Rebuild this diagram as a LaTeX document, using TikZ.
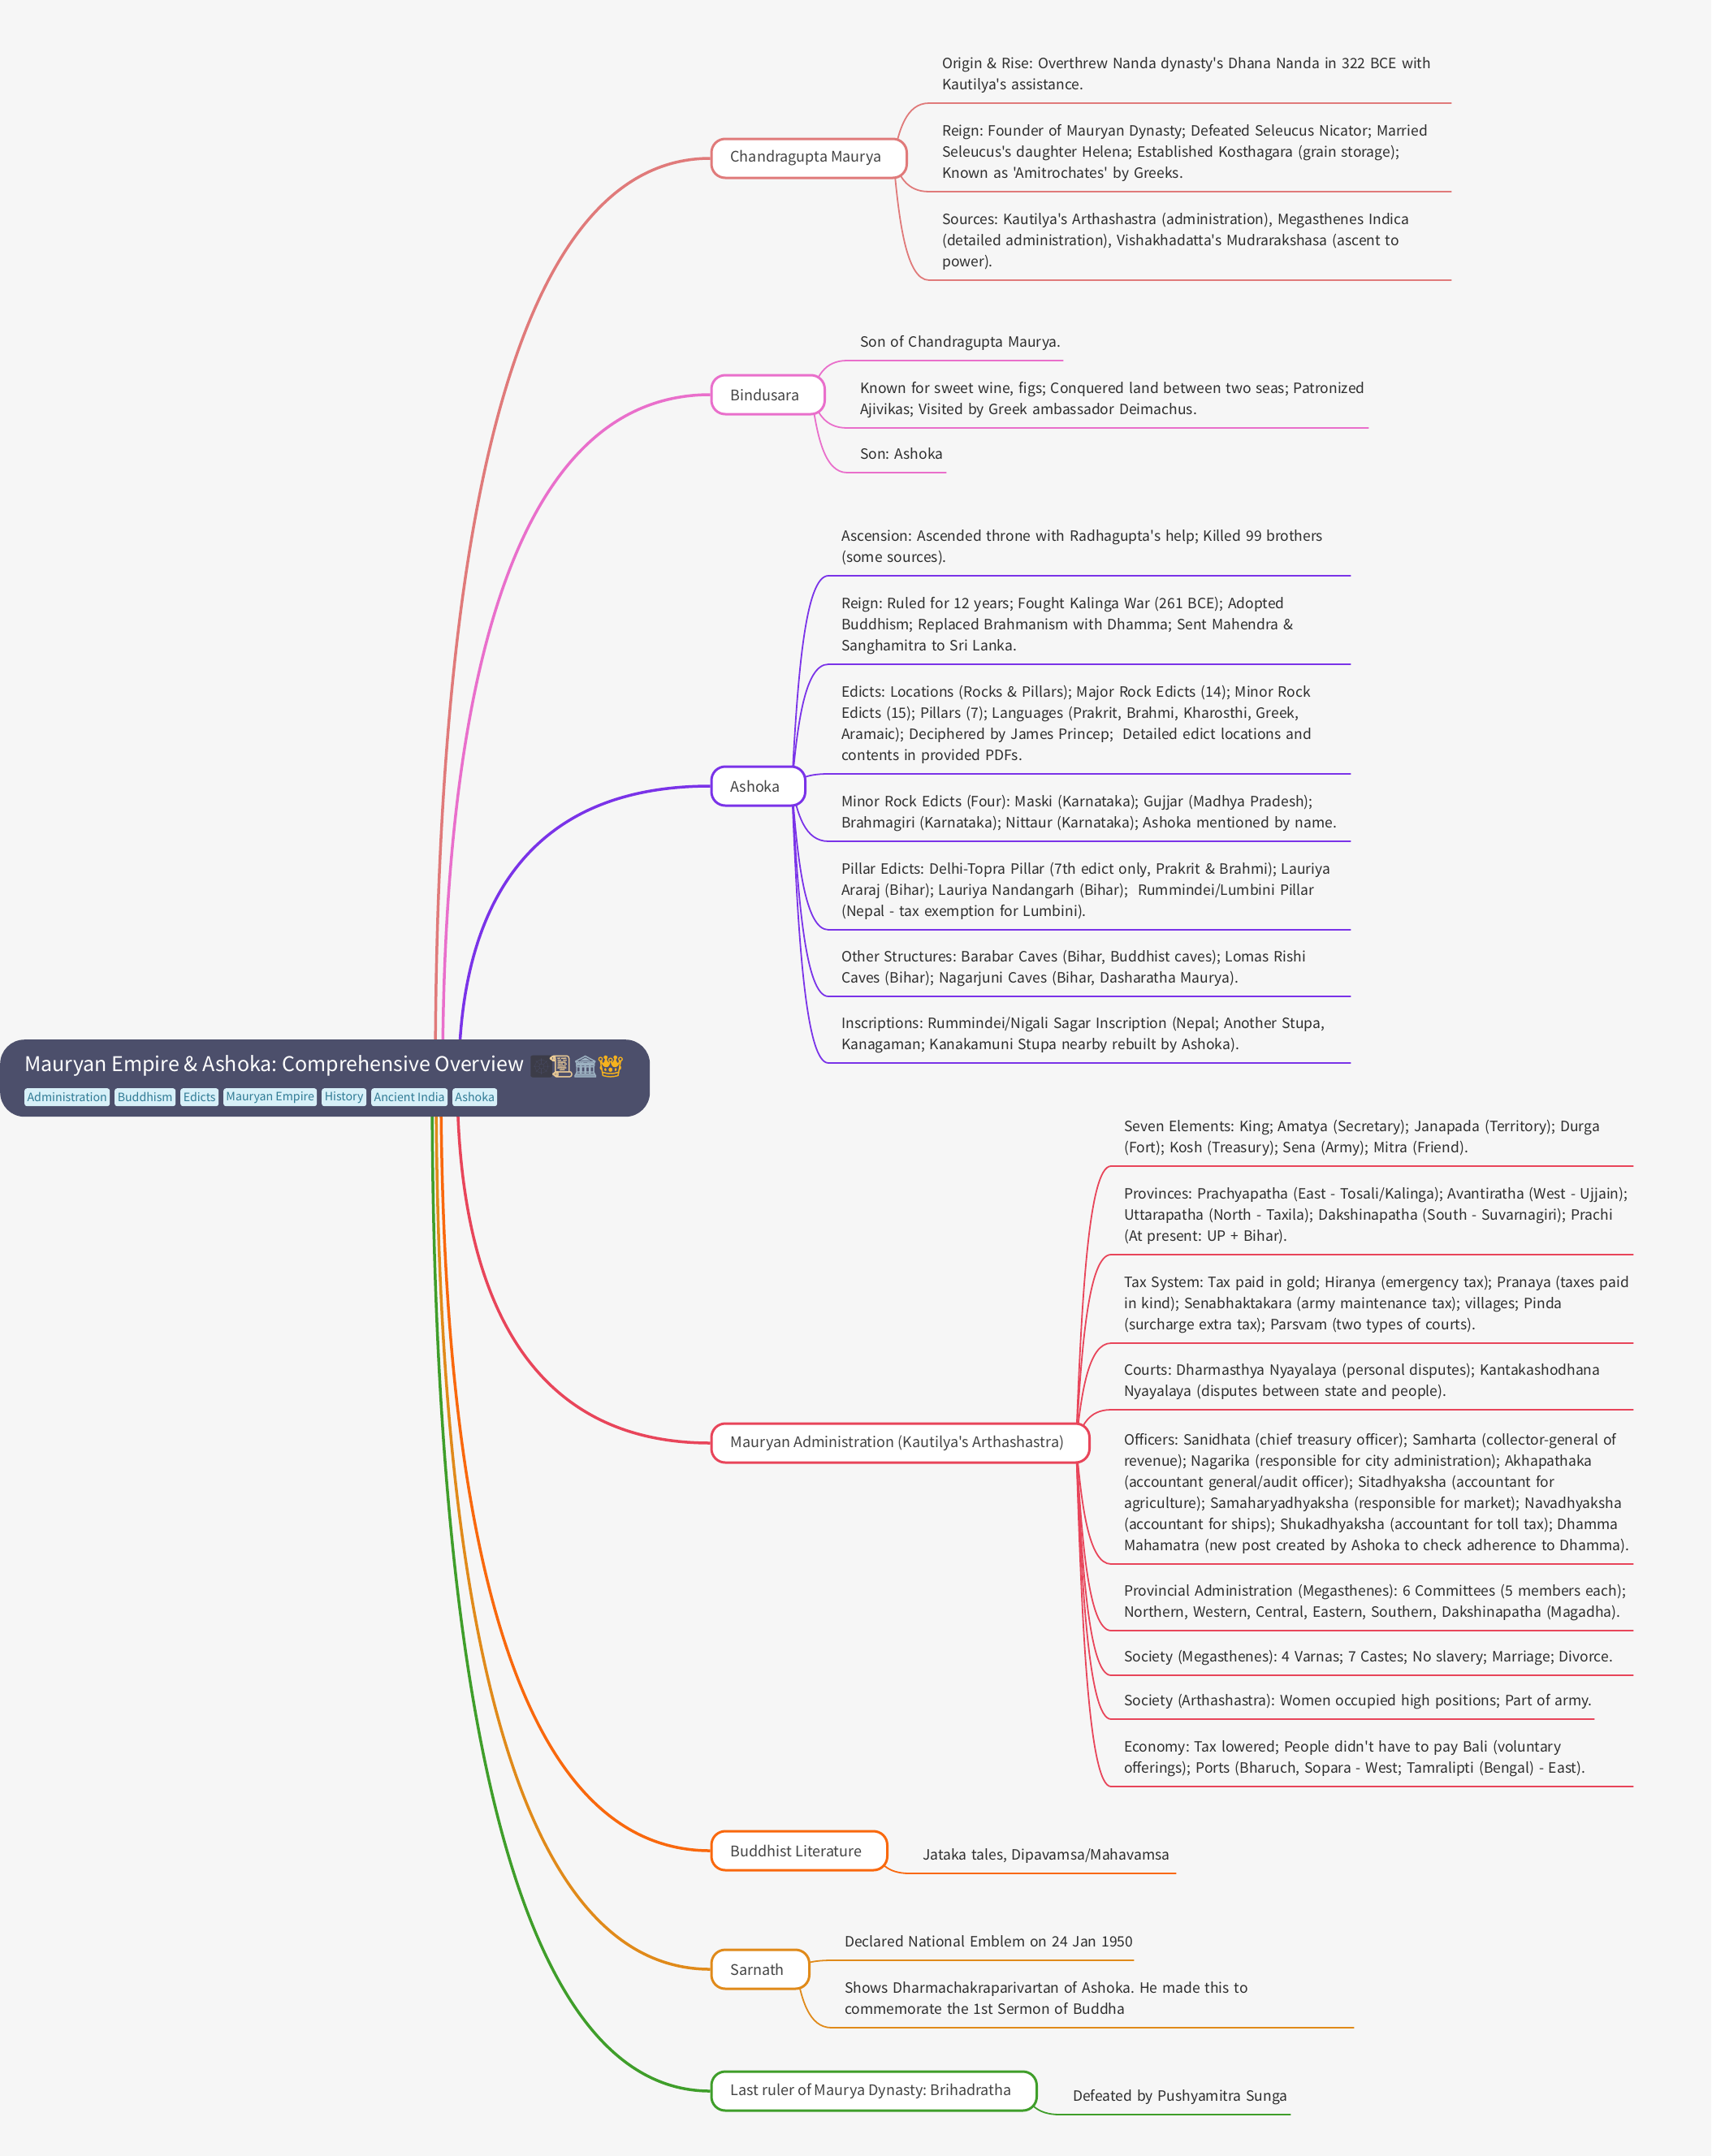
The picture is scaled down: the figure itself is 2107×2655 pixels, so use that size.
\documentclass[tikz,border=0pt]{standalone}
\usepackage{fontspec}
\usetikzlibrary{calc,backgrounds}
\newfontfamily\srcfont{Noto Sans CJK SC}
\newfontfamily\emojifont[FakeBold=1.5]{Noto Emoji}
\frenchspacing
\definecolor{pagebg}{HTML}{F6F6F6}
\definecolor{rootfill}{HTML}{4C4F6B}
\definecolor{tagfill}{HTML}{D7F0F8}
\definecolor{tagtext}{HTML}{2F7A94}
\definecolor{leaftext}{HTML}{2E2E2E}
\definecolor{nodetext}{HTML}{444444}
\definecolor{cchand}{HTML}{E07A7A}
\definecolor{cbind}{HTML}{E96FCB}
\definecolor{cash}{HTML}{7A33E8}
\definecolor{cadm}{HTML}{E8455A}
\definecolor{cbud}{HTML}{F9680D}
\definecolor{csar}{HTML}{E08A1A}
\definecolor{clast}{HTML}{3F9E2A}
\tikzset{
  x=1pt,y=-1pt,
  rootbox/.style={fill=rootfill,rounded corners=30pt,minimum width=800pt,minimum height=95pt,inner sep=0,anchor=north west},
  tagbox/.style={fill=tagfill,text=tagtext,rounded corners=3pt,inner sep=0,minimum height=22pt,anchor=north west,font=\srcfont\frenchspacing\fontsize{14.2}{18}\selectfont},
  titletext/.style={text=white,inner sep=0,anchor=base west,font=\srcfont\frenchspacing\fontsize{25}{32}\selectfont},
  emoji/.style={inner sep=0,anchor=base west,font=\emojifont\fontsize{26}{32}\selectfont},
  branch/.style={draw=#1,fill=white,line width=3pt,rounded corners=17pt,minimum height=48pt,inner sep=0,anchor=west,text=nodetext,align=center,font=\srcfont\frenchspacing\fontsize{18}{26}\selectfont},
  leafbox/.style={inner xsep=0,inner ysep=8.2pt,anchor=south west,text=leaftext,align=left,font=\srcfont\frenchspacing\fontsize{17.5}{26}\selectfont},
  mainlink/.style={line width=3.5pt},
  leaflink/.style={line width=1.8pt}
}
% \brnode{name}{colour}{width}{y}{text}
\newcommand{\brnode}[5]{\node[branch=#2,minimum width=#3pt-1.5pt] (#1) at (874.5,#4) {#5\hspace{7.5pt}};}
% \mainconn{branch}{colour}{root x}
\newcommand{\mainconn}[3]{\begin{pgfonlayer}{background}
  \draw[mainlink,#2] let \p1=($(root.west)+(#3,0)$),\p2=(#1.west) in
   (\p1) .. controls (\x1,{\y1+.5*(\y2-\y1)}) and ({\x1+.2*(\x2-\x1)},\y2) .. (\p2);
\end{pgfonlayer}}
% \leaf{name}{parent}{colour}{text x}{underline y}{right x}{lines}
\newcommand{\leaf}[7]{%
  \node[leafbox,text width=\dimexpr #6pt - #4pt + 24pt\relax] (#1) at (#4,#5) {\strut #7\strut};
  \begin{pgfonlayer}{background}
  \draw[leaflink,#3,line join=round] let \p1=($(#2.east)+(-18,0)$),\p2=($(#1.south west)+(-16,0)$) in
   (\p1) .. controls ({\x1+.15*(\x2-\x1)},{\y1+.5*(\y2-\y1)}) and ({\x1+.35*(\x2-\x1)},\y2) .. (\p2) -- ($(#1.south east)+(-24,0)$);
  \end{pgfonlayer}}
\begin{document}
\begin{tikzpicture}
\useasboundingbox (0,0) rectangle (2107,2655);
\begin{pgfonlayer}{background}
\fill[pagebg] (0,0) rectangle (2107,2655);
\end{pgfonlayer}
% root
\node[rootbox] (root) at (0,1280) {};
\node[titletext] (title) at (30,1319) {Mauryan Empire \& Ashoka: Comprehensive Overview};
\node[emoji] (em1) at (650,1322) {\textcolor[HTML]{3C3C48}{☸}};
\node[emoji] (em2) at (674,1322) {\textcolor[HTML]{EBCB96}{📜}};
\node[emoji] (em3) at (704,1322) {\textcolor[HTML]{9DB2C2}{🏛}};
\node[emoji] (em4) at (735,1322) {\textcolor[HTML]{F5B21E}{👑}};
\node[tagbox,minimum width=105pt] (t1) at (30,1340) {Administration};
\node[tagbox,minimum width=75pt] (t2) at (141,1340) {Buddhism};
\node[tagbox,minimum width=47pt] (t3) at (222,1340) {Edicts};
\node[tagbox,minimum width=115pt] (t4) at (275,1340) {Mauryan Empire};
\node[tagbox,minimum width=55pt] (t5) at (396,1340) {History};
\node[tagbox,minimum width=94pt] (t6) at (457,1340) {Ancient India};
\node[tagbox,minimum width=55pt] (t7) at (557,1340) {Ashoka};
% branches
\brnode{chand}{cchand}{242}{195}{Chandragupta Maurya}
\brnode{bind}{cbind}{141}{486}{Bindusara}
\brnode{ash}{cash}{117}{968}{Ashoka}
\brnode{adm}{cadm}{467}{1777}{Mauryan Administration (Kautilya's Arthashastra)}
\brnode{bud}{cbud}{218}{2279}{Buddhist Literature}
\brnode{sar}{csar}{122}{2425}{Sarnath}
\brnode{last}{clast}{402}{2575}{Last ruler of Maurya Dynasty: Brihadratha}
\mainconn{chand}{cchand}{536}
\mainconn{bind}{cbind}{545}
\mainconn{ash}{cash}{565}
\mainconn{adm}{cadm}{563}
\mainconn{bud}{cbud}{543}
\mainconn{sar}{csar}{537}
\mainconn{last}{clast}{532}
% Chandragupta
\leaf{c1}{chand}{cchand}{1160}{127}{1787}{Origin \& Rise: Overthrew Nanda dynasty's Dhana Nanda in 322 BCE with\\Kautilya's assistance.}
\leaf{c2}{chand}{cchand}{1160}{236}{1787}{Reign: Founder of Mauryan Dynasty; Defeated Seleucus Nicator; Married\\Seleucus's daughter Helena; Established Kosthagara (grain storage);\\Known as 'Amitrochates' by Greeks.}
\leaf{c3}{chand}{cchand}{1160}{345}{1787}{Sources: Kautilya's Arthashastra (administration), Megasthenes Indica\\(detailed administration), Vishakhadatta's Mudrarakshasa (ascent to\\power).}
% Bindusara
\leaf{b1}{bind}{cbind}{1059}{444}{1309}{Son of Chandragupta Maurya.}
\leaf{b2}{bind}{cbind}{1059}{527}{1685}{Known for sweet wine, figs; Conquered land between two seas; Patronized\\Ajivikas; Visited by Greek ambassador Deimachus.}
\leaf{b3}{bind}{cbind}{1059}{582}{1165}{Son: Ashoka}
% Ashoka
\leaf{a1}{ash}{cash}{1036}{709}{1663}{Ascension: Ascended throne with Radhagupta's help; Killed 99 brothers\\(some sources).}
\leaf{a2}{ash}{cash}{1036}{818}{1663}{Reign: Ruled for 12 years; Fought Kalinga War (261 BCE); Adopted\\Buddhism; Replaced Brahmanism with Dhamma; Sent Mahendra \&\\Sanghamitra to Sri Lanka.}
\leaf{a3}{ash}{cash}{1036}{953}{1663}{Edicts: Locations (Rocks \& Pillars); Major Rock Edicts (14); Minor Rock\\Edicts (15); Pillars (7); Languages (Prakrit, Brahmi, Kharosthi, Greek,\\Aramaic); Deciphered by James Princep;\ \ Detailed edict locations and\\contents in provided PDFs.}
\leaf{a4}{ash}{cash}{1036}{1036}{1663}{Minor Rock Edicts (Four): Maski (Karnataka); Gujjar (Madhya Pradesh);\\Brahmagiri (Karnataka); Nittaur (Karnataka); Ashoka mentioned by name.}
\leaf{a5}{ash}{cash}{1036}{1145}{1663}{Pillar Edicts: Delhi-Topra Pillar (7th edict only, Prakrit \& Brahmi); Lauriya\\Araraj (Bihar); Lauriya Nandangarh (Bihar);\ \ Rummindei/Lumbini Pillar\\(Nepal - tax exemption for Lumbini).}
\leaf{a6}{ash}{cash}{1036}{1227}{1663}{Other Structures: Barabar Caves (Bihar, Buddhist caves); Lomas Rishi\\Caves (Bihar); Nagarjuni Caves (Bihar, Dasharatha Maurya).}
\leaf{a7}{ash}{cash}{1036}{1309}{1663}{Inscriptions: Rummindei/Nigali Sagar Inscription (Nepal; Another Stupa,\\Kanagaman; Kanakamuni Stupa nearby rebuilt by Ashoka).}
% Administration
\leaf{d1}{adm}{cadm}{1384}{1436}{2011}{Seven Elements: King; Amatya (Secretary); Janapada (Territory); Durga\\(Fort); Kosh (Treasury); Sena (Army); Mitra (Friend).}
\leaf{d2}{adm}{cadm}{1384}{1545}{2011}{Provinces: Prachyapatha (East - Tosali/Kalinga); Avantiratha (West - Ujjain);\\Uttarapatha (North - Taxila); Dakshinapatha (South - Suvarnagiri); Prachi\\(At present: UP + Bihar).}
\leaf{d3}{adm}{cadm}{1384}{1654}{2011}{Tax System: Tax paid in gold; Hiranya (emergency tax); Pranaya (taxes paid\\in kind); Senabhaktakara (army maintenance tax); villages; Pinda\\(surcharge extra tax); Parsvam (two types of courts).}
\leaf{d4}{adm}{cadm}{1384}{1736}{2011}{Courts: Dharmasthya Nyayalaya (personal disputes); Kantakashodhana\\Nyayalaya (disputes between state and people).}
\leaf{d5}{adm}{cadm}{1384}{1926}{2011}{Officers: Sanidhata (chief treasury officer); Samharta (collector-general of\\revenue); Nagarika (responsible for city administration); Akhapathaka\\(accountant general/audit officer); Sitadhyaksha (accountant for\\agriculture); Samaharyadhyaksha (responsible for market); Navadhyaksha\\(accountant for ships); Shukadhyaksha (accountant for toll tax); Dhamma\\Mahamatra (new post created by Ashoka to check adherence to Dhamma).}
\leaf{d6}{adm}{cadm}{1384}{2008}{2011}{Provincial Administration (Megasthenes): 6 Committees (5 members each);\\Northern, Western, Central, Eastern, Southern, Dakshinapatha (Magadha).}
\leaf{d7}{adm}{cadm}{1384}{2063}{2011}{Society (Megasthenes): 4 Varnas; 7 Castes; No slavery; Marriage; Divorce.}
\leaf{d8}{adm}{cadm}{1384}{2117}{1963}{Society (Arthashastra): Women occupied high positions; Part of army.}
\leaf{d9}{adm}{cadm}{1384}{2200}{2011}{Economy: Tax lowered; People didn't have to pay Bali (voluntary\\offerings); Ports (Bharuch, Sopara - West; Tamralipti (Bengal) - East).}
% Others
\leaf{l1}{bud}{cbud}{1136}{2307}{1448}{Jataka tales, Dipavamsa/Mahavamsa}
\leaf{s1}{sar}{csar}{1040}{2414}{1396}{Declared National Emblem on 24 Jan 1950}
\leaf{s2}{sar}{csar}{1040}{2497}{1667}{Shows Dharmachakraparivartan of Ashoka. He made this to\\commemorate the 1st Sermon of Buddha}
\leaf{r1}{last}{clast}{1321}{2604}{1589}{Defeated by Pushyamitra Sunga}
\end{tikzpicture}
\end{document}
